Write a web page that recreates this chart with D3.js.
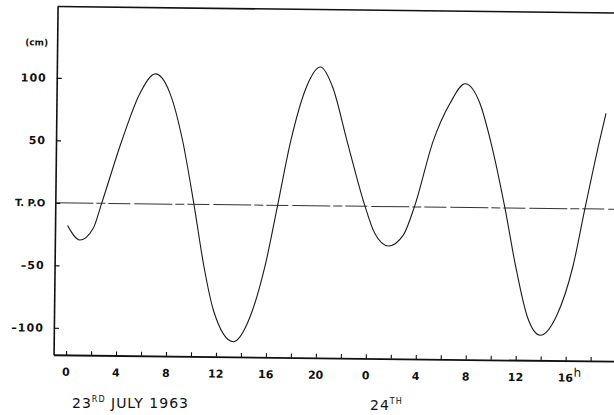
<!DOCTYPE html>
<html>
<head>
<meta charset="utf-8">
<script src="https://cdn.jsdelivr.net/npm/d3@7"></script>
<style>
  body { margin: 0; background: #fff; }
  svg { display: block; }
  .lbl { font-family: "DejaVu Sans", sans-serif; fill: #111; }
</style>
</head>
<body>
<div id="chart"></div>
<script>
// tide level readings, 23rd - 24th July 1963 (hours from 0h on the 23rd, cm about T.P.O)
const hours = [0, 1.0, 2.06, 2.71, 4.26, 5.68, 6.9, 8.08, 9.14, 10.1, 10.96, 11.75, 13.38, 14.75, 15.85, 16.8, 17.8, 19.0, 20.1, 21.1, 22.3, 23.8, 24.6, 25.7, 26.9, 27.75, 29.2, 30.5, 31.7, 32.9, 33.8, 35.0, 35.9, 36.9, 37.95, 39.2, 40.5, 41.4, 42.5, 43.0];
const level = [-18, -29.5, -20, 0, 50, 88.4, 104, 88.6, 50.6, 0, -49.8, -84.3, -109.5, -88, -48.6, 0, 52, 95, 111, 95, 52, 0, -21.5, -31.5, -22.5, 0, 53, 83, 99, 83.5, 53, 0, -46, -87, -101.5, -86.5, -46, 0, 54, 76.5];

const yTicks = [100, 50, 0, -50, -100];
const minorHours = d3.range(0, 43, 2);
const labelHours = [0, 4, 8, 12, 16, 20, 24, 28, 32, 36, 40];
const labelText = ["0", "4", "8", "12", "16", "20", "0", "4", "8", "12", "16"];

const width = 614, height = 415;

const svg = d3.select("#chart").append("svg")
	.attr("width", width)
	.attr("height", height);

var x = d3.scaleLinear().domain([-1, 45]).range([55.3, 55.3 + 46 * 12.49]);
var y = d3.scaleLinear().domain([-121.6, 157]).range([358, 9.75]);

// whole sheet is scanned slightly skewed
var g = svg.append("g").attr("transform", "rotate(0.66 335 206)");

// top border
g.append("line")
	.attr("x1", x(-1)).attr("x2", x(45))
	.attr("y1", y(157)).attr("y2", y(157))
	.attr("stroke", "#111").attr("stroke-width", 1.6);

// left axis
var yAxis = d3.axisLeft(y)
	.tickValues(yTicks)
	.tickSizeInner(-5)
	.tickSizeOuter(0)
	.tickPadding(10)
	.tickFormat(d => d === 0 ? "T. P.O" : (d < 0 ? "\u2013" + Math.abs(d) : d));

var ya = g.append("g")
	.attr("transform", `translate(${x(-1)},0)`)
	.call(yAxis);
ya.select(".domain").attr("stroke", "#111").attr("stroke-width", 1.6);
ya.selectAll(".tick line").attr("stroke", "#111").attr("stroke-width", 1.2);
ya.selectAll(".tick text")
	.attr("class", "lbl")
	.style("font-size", d => d === 0 ? "10px" : "11px")
	.style("font-weight", "bold")
	.style("letter-spacing", d => d === 0 ? "0px" : "1px");

g.append("text")
	.attr("class", "lbl")
	.attr("x", x(-1) - 9)
	.attr("y", y(128))
	.attr("dy", "0.32em")
	.attr("text-anchor", "end")
	.style("font-size", "9px")
	.style("font-weight", "bold")
	.text("(cm)");

// bottom axis, 2 hour ticks
var xAxis = d3.axisBottom(x)
	.tickValues(minorHours)
	.tickSizeInner(-4)
	.tickSizeOuter(0)
	.tickFormat("");

var xa = g.append("g")
	.attr("transform", `translate(0,${y(-121.6)})`)
	.call(xAxis);
xa.select(".domain").attr("stroke", "#111").attr("stroke-width", 1.8);
xa.selectAll(".tick line").attr("stroke", "#111").attr("stroke-width", 1.1);

g.selectAll(".hlabel")
	.data(labelHours)
	.enter()
	.append("text")
	.attr("class", "lbl hlabel")
	.attr("x", d => x(d))
	.attr("y", y(-121.6) + 21)
	.attr("text-anchor", "middle")
	.style("font-size", "11px")
	.style("font-weight", "bold")
	.text((d, i) => labelText[i]);

g.append("text")
	.attr("class", "lbl")
	.attr("x", x(40) + 8)
	.attr("y", y(-121.6) + 16)
	.style("font-size", "12px")
	.text("h");

// T.P.O reference line
g.append("line")
	.attr("x1", x(-1)).attr("x2", x(45))
	.attr("y1", y(0)).attr("y2", y(0))
	.attr("stroke", "#333")
	.attr("stroke-width", 1)
	.attr("stroke-dasharray", "38 3 9 3 22 4");

// tide curve
var line = d3.line()
	.x(d => x(d[0]))
	.y(d => y(d[1]))
	.curve(d3.curveMonotoneX);

g.append("path")
	.datum(hours.map((h, i) => [h, level[i]]))
	.attr("fill", "none")
	.attr("stroke", "#1a1a1a")
	.attr("stroke-width", 1.1)
	.attr("d", line);

// date captions
var d1 = svg.append("text")
	.attr("class", "lbl")
	.attr("x", 72)
	.attr("y", 408)
	.style("font-size", "14px")
	.style("letter-spacing", "1px");
d1.append("tspan").text("23");
d1.append("tspan").attr("dy", -6).style("font-size", "8px").text("RD");
d1.append("tspan").attr("dy", 6).text(" JULY  1963");

var d2 = svg.append("text")
	.attr("class", "lbl")
	.attr("x", 370)
	.attr("y", 410)
	.style("font-size", "14px")
	.style("letter-spacing", "1px");
d2.append("tspan").text("24");
d2.append("tspan").attr("dy", -6).style("font-size", "8px").text("TH");
</script>
</body>
</html>
